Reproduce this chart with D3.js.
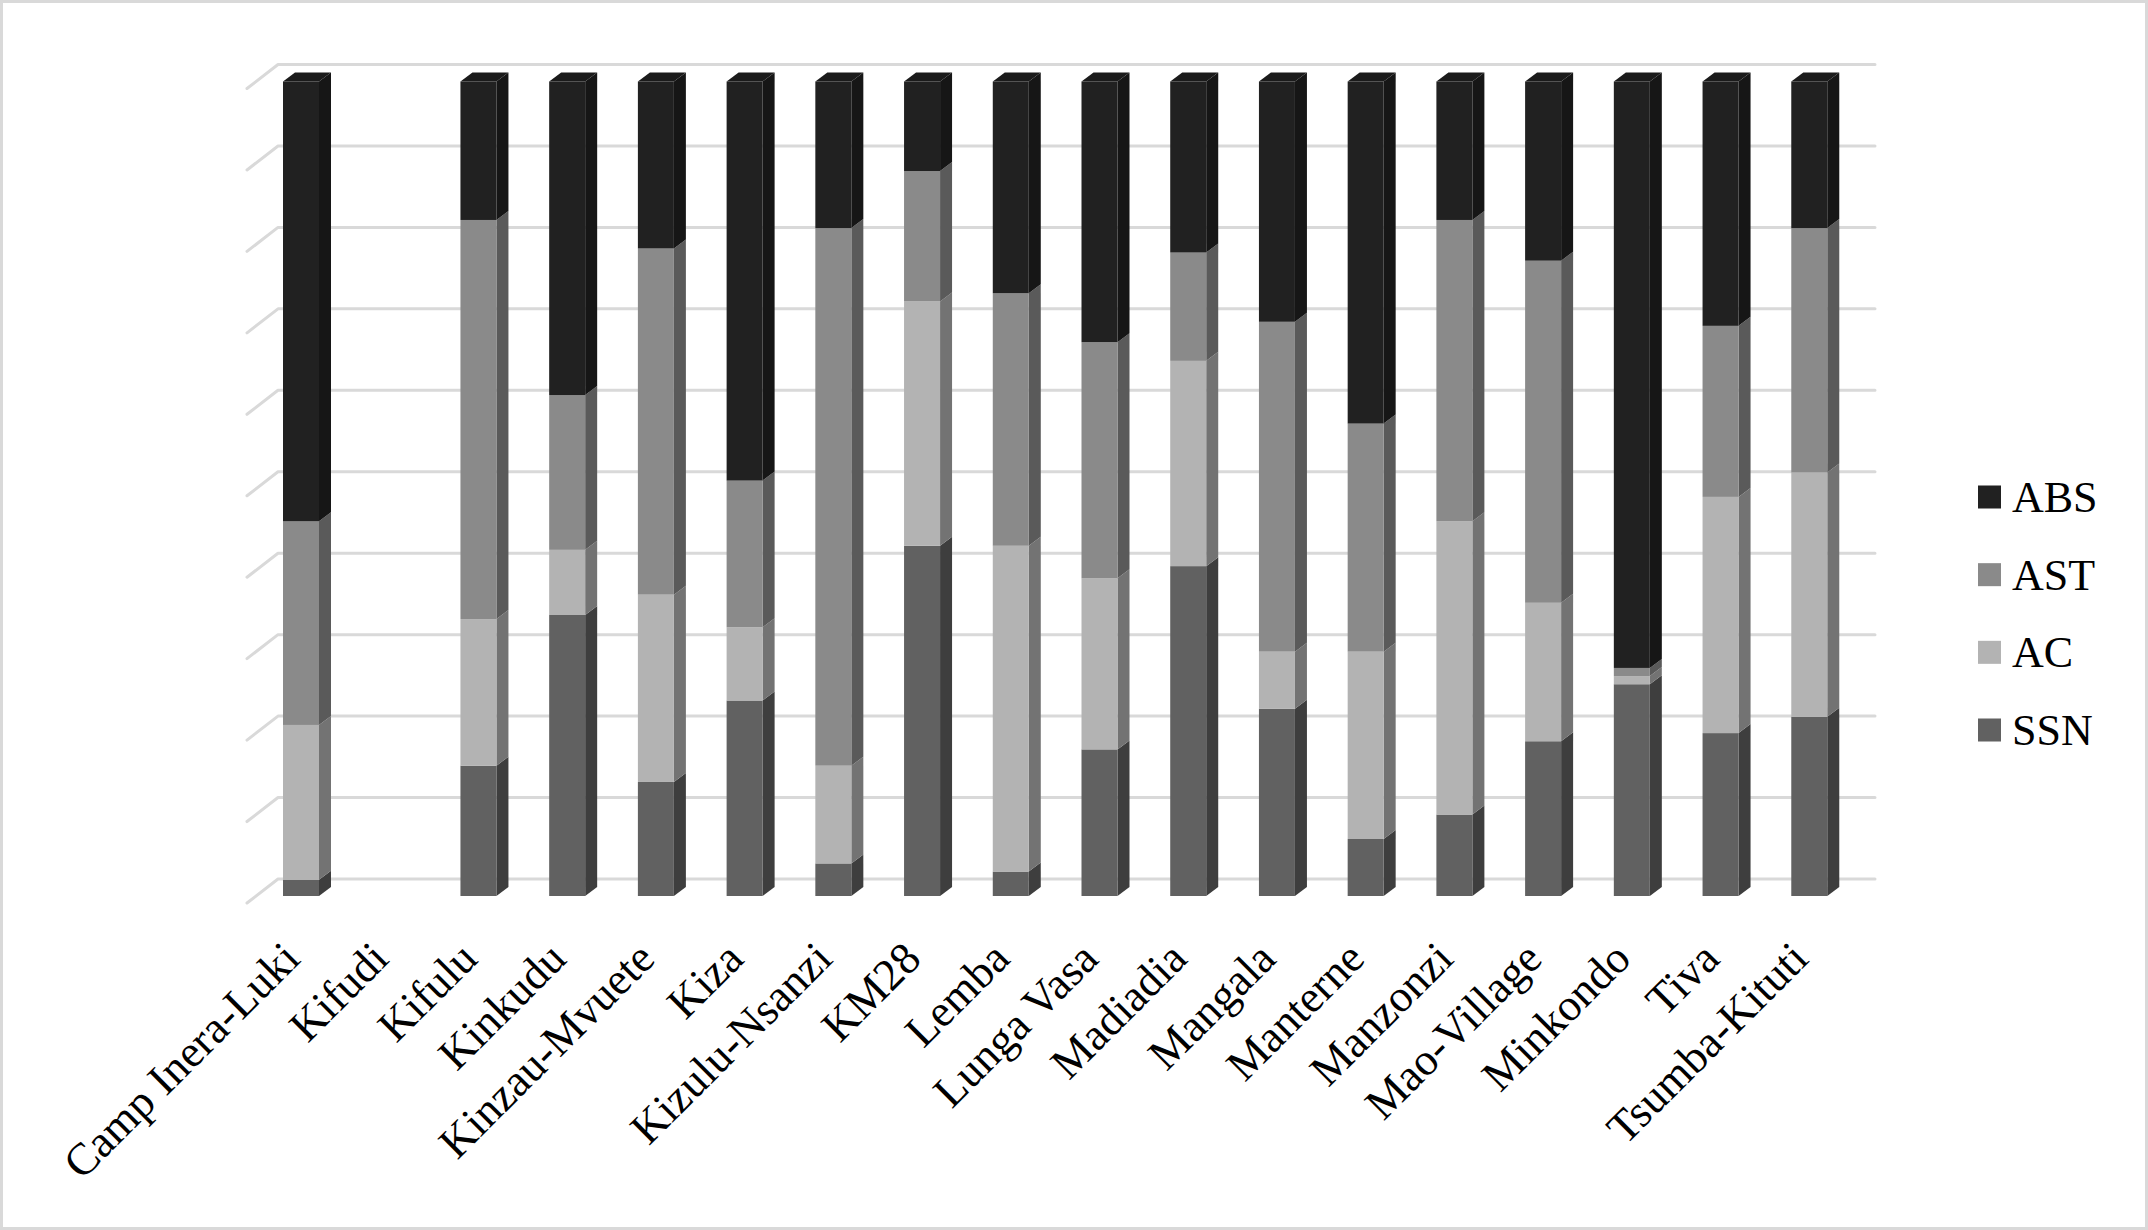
<!DOCTYPE html>
<html>
<head>
<meta charset="utf-8">
<script src="https://cdn.jsdelivr.net/npm/d3@7"></script>
<style>
  html, body { margin: 0; padding: 0; background: #fff; }
  svg { display: block; }
</style>
</head>
<body>
<svg id="chart" width="2148" height="1230"></svg>
<script>
// ---- data ----
const categories = ["Camp Inera-Luki","Kifudi","Kifulu","Kinkudu","Kinzau-Mvuete","Kiza","Kizulu-Nsanzi","KM28","Lemba","Lunga Vasa","Madiadia","Mangala","Manterne","Manzonzi","Mao-Village","Minkondo","Tiva","Tsumba-Kituti"];
const seriesNames = ["SSN","AC","AST","ABS"]; // bottom to top
const SSN = [2, 0, 16, 34.5, 14, 24, 4, 43, 3, 18, 40.5, 23, 7, 10, 19, 26, 20, 22];
const AC  = [19, 0, 18, 8, 23, 9, 12, 30, 40, 21, 25.2, 7, 23, 36, 17, 1, 29, 30];
const AST = [25, 0, 49, 19, 42.5, 18, 66, 16, 31, 29, 13.3, 40.5, 28, 37, 42, 1, 21, 30];
const ABS = [54, 0, 17, 38.5, 20.5, 49, 18, 11, 26, 32, 21, 29.5, 42, 17, 22, 72, 30, 18];
const gridTicks = [0,0.1,0.2,0.3,0.4,0.5,0.6,0.7,0.8,0.9,1];
const legendOrder = ["ABS","AST","AC","SSN"];

// ---- styles ----
const faceColors = {
  SSN: {front:"#616161", side:"#3e3e3e", top:"#505050"},
  AC:  {front:"#b3b3b3", side:"#737373", top:"#949494"},
  AST: {front:"#8a8a8a", side:"#5a5a5a", top:"#707070"},
  ABS: {front:"#212121", side:"#161616", top:"#1b1b1b"}
};
const legendColors = {ABS:"#212121", AST:"#8a8a8a", AC:"#b3b3b3", SSN:"#616161"};
const font = "'Liberation Serif','Times New Roman',serif";

const svg = d3.select("#chart");
const W = 2148, H = 1230;

// border
svg.append("rect").attr("x",1.5).attr("y",1.5).attr("width",W-3).attr("height",H-3)
  .attr("fill","#fff").attr("stroke","#d9d9d9").attr("stroke-width",3);

// geometry
const backLeft = 278, backRight = 1875;
const wallDX = -31, wallDY = 24;      // front of floor relative to back wall
const barDX = 12, barDY = -9;         // bar depth
const barOffset = 5, barW = 36;
const frontShift = 17;                // bar front face below back plane

const x = d3.scaleBand().domain(categories).range([backLeft, backRight]);
const yBack = d3.scaleLinear().domain([0,1]).range([879, 64.5]);
const y = v => yBack(v) + frontShift;

// gridlines
const grid = svg.append("g");
gridTicks.forEach(t => {
  const yb = yBack(t);
  grid.append("path")
    .attr("d", `M${backLeft+wallDX},${yb+wallDY} L${backLeft},${yb} L${backRight},${yb}`)
    .attr("fill","none").attr("stroke","#d9d9d9").attr("stroke-width",3)
    .attr("stroke-linecap","round").attr("stroke-linejoin","round");
});

// stack
const rows = categories.map((c,i) => ({cat:c, SSN:SSN[i], AC:AC[i], AST:AST[i], ABS:ABS[i]}));
const stack = d3.stack().keys(seriesNames).offset(d3.stackOffsetExpand);
const layers = stack(rows);

const bars = svg.append("g");
layers.forEach(layer => {
  const key = layer.key;
  layer.forEach((seg, i) => {
    const v0 = seg[0], v1 = seg[1];
    if (!isFinite(v0) || !isFinite(v1) || v1 - v0 <= 0) return;
    const x0 = x(seg.data.cat) + barOffset, x1 = x0 + barW;
    const yT = y(v1), yB = y(v0);
    const g = bars.append("g");
    // side face
    g.append("path")
      .attr("d", `M${x1},${yB} L${x1+barDX},${yB+barDY} L${x1+barDX},${yT+barDY} L${x1},${yT} Z`)
      .attr("fill", faceColors[key].side);
    // front face
    g.append("rect").attr("x",x0).attr("y",yT).attr("width",barW).attr("height",yB-yT)
      .attr("fill", faceColors[key].front);
    // top face for top-most segment
    if (v1 >= 0.9999) {
      g.append("path")
        .attr("d", `M${x0},${yT} L${x0+barDX},${yT+barDY} L${x1+barDX},${yT+barDY} L${x1},${yT} Z`)
        .attr("fill", faceColors[key].top);
    }
  });
});

// category labels
const labels = svg.append("g");
categories.forEach(c => {
  const cx = x(c) + barOffset + barW/2 + 1;
  const cy = 961;
  labels.append("text")
    .attr("transform", `translate(${cx},${cy}) rotate(-45)`)
    .attr("text-anchor","end")
    .attr("font-family", font).attr("font-size", 45).attr("fill","#000")
    .text(c);
});

// legend
const legend = svg.append("g");
const legY = d3.scalePoint().domain(legendOrder).range([497, 730]);
legendOrder.forEach(k => {
  const cy = legY(k);
  legend.append("rect").attr("x",1978).attr("y",cy-11.5).attr("width",23).attr("height",23)
    .attr("fill", legendColors[k]);
  legend.append("text").attr("x",2012).attr("y",cy+15)
    .attr("font-family", font).attr("font-size", 44).attr("fill","#000").text(k);
});
</script>
</body>
</html>
